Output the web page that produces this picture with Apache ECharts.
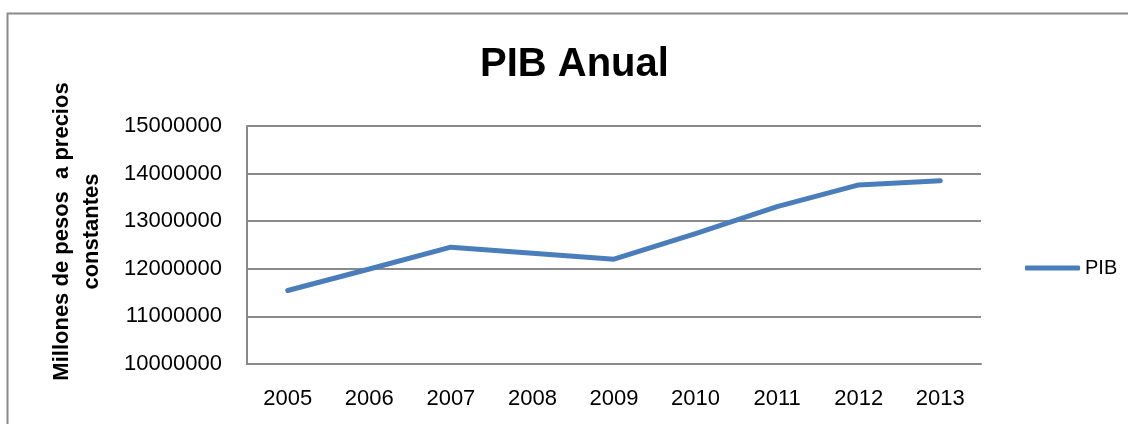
<!DOCTYPE html>
<html>
<head>
<meta charset="utf-8">
<script src="https://cdn.jsdelivr.net/npm/echarts@6/dist/echarts.min.js"></script>
<style>
html,body{margin:0;padding:0;background:#fff;}
#chart{width:1128px;height:424px;}
</style>
</head>
<body>
<div id="chart"></div>
<script>
const years = ['2005','2006','2007','2008','2009','2010','2011','2012','2013'];
const pib = [11544000, 11995000, 12455000, 12327000, 12203000, 12738000, 13307000, 13762000, 13852000];
const seriesName = 'PIB';
const titleText = 'PIB Anual';
const yAxisName = 'Millones de pesos  a precios\nconstantes';

const chart = echarts.init(document.getElementById('chart'), null, {renderer: 'canvas'});
const fontFam = '"Liberation Sans", Arial, sans-serif';
const grey = '#8a8a8a';
chart.setOption({
  animation: false,
  backgroundColor: '#fff',
  graphic: [{
    type: 'rect', shape: {x: 7.5, y: 13.5, width: 1140, height: 440},
    style: {fill: 'none', stroke: grey, lineWidth: 2}, silent: true, z: -1
  }],
  title: {
    text: titleText, left: 475, top: 40,
    textStyle: {fontFamily: fontFam, fontWeight: 'bold', fontSize: 40, color: '#000'}
  },
  legend: {
    data: [seriesName], orient: 'vertical', left: 1020, top: 253,
    icon: 'roundRect', itemWidth: 55, itemHeight: 5,
    textStyle: {fontFamily: fontFam, fontSize: 20, color: '#000'}
  },
  grid: {left: 247, right: 147, top: 126, bottom: 60, containLabel: false},
  xAxis: {
    type: 'category', data: years, boundaryGap: true,
    axisLine: {lineStyle: {color: grey, width: 2}},
    axisTick: {show: false},
    axisLabel: {fontFamily: fontFam, fontSize: 22, color: '#000', margin: 24}
  },
  yAxis: {
    type: 'value', min: 10000000, max: 15000000, interval: 1000000,
    name: yAxisName, nameLocation: 'middle', nameGap: 140,
    nameTextStyle: {fontFamily: fontFam, fontWeight: 'bold', fontSize: 22, color: '#000', lineHeight: 30, padding: [0, 0, 0, 27]},
    axisLine: {show: true, lineStyle: {color: grey, width: 2}},
    axisTick: {show: false},
    splitLine: {lineStyle: {color: grey, width: 2}},
    axisLabel: {fontFamily: fontFam, fontSize: 22, color: '#000', margin: 25,
      formatter: function (v) { return String(v); }}
  },
  series: [{
    name: seriesName, type: 'line', data: pib,
    symbol: 'none', smooth: false,
    lineStyle: {color: '#4a7ebb', width: 5, cap: 'round', join: 'round'},
    itemStyle: {color: '#4a7ebb'}
  }]
});
</script>
</body>
</html>
